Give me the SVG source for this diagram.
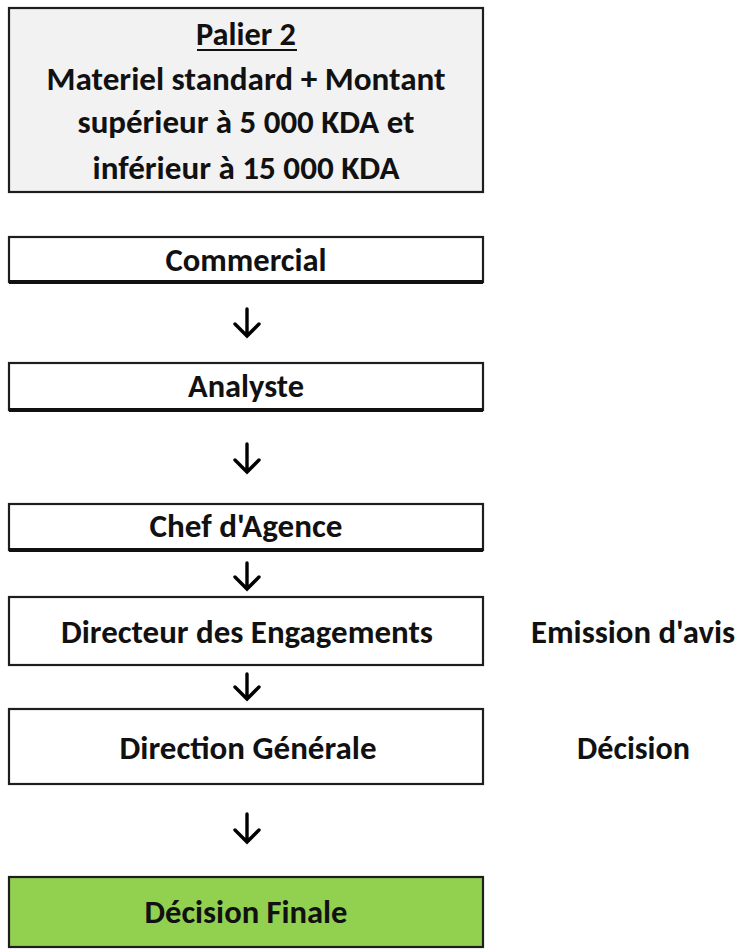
<svg xmlns="http://www.w3.org/2000/svg" width="741" height="949" viewBox="0 0 741 949">
  <style>
    .box { fill: #ffffff; stroke: #1e1e1e; stroke-width: 2.2; }
    .head { fill: #f2f2f2; }
    .final { fill: #92d050; }
    .base { stroke: #111111; stroke-width: 4; }
    .t { font-family: "Carlito", "Open Sans", "Noto Sans", sans-serif; font-weight: bold; font-size: 32px; fill: #111111; text-anchor: middle; }
    .side { text-anchor: start; }
    .arrow { fill: none; stroke: #000000; stroke-width: 3.4; stroke-linecap: round; stroke-linejoin: miter; }
  </style>

  <rect width="741" height="949" fill="#ffffff"/>

  <g id="palier">
    <rect class="box head" x="9" y="8" width="474" height="184"/>
    <text class="t" x="246" y="45" textLength="100" lengthAdjust="spacingAndGlyphs">Palier 2</text>
    <line x1="197" y1="50" x2="297" y2="50" stroke="#111111" stroke-width="2"/>
    <text class="t" x="246" y="90" textLength="399" lengthAdjust="spacingAndGlyphs">Materiel standard + Montant</text>
    <text class="t" x="246" y="133" textLength="337" lengthAdjust="spacingAndGlyphs">supérieur à 5 000 KDA et</text>
    <text class="t" x="246" y="179" textLength="307" lengthAdjust="spacingAndGlyphs">inférieur à 15 000 KDA</text>
  </g>

  <g id="commercial">
    <rect class="box" x="9" y="237" width="474" height="45"/>
    <line class="base" x1="9" y1="282" x2="483" y2="282"/>
    <text class="t" x="246" y="271" textLength="161" lengthAdjust="spacingAndGlyphs">Commercial</text>
  </g>

  <g id="analyste">
    <rect class="box" x="9" y="363" width="474" height="47"/>
    <line class="base" x1="9" y1="410" x2="483" y2="410"/>
    <text class="t" x="246" y="397" textLength="116" lengthAdjust="spacingAndGlyphs">Analyste</text>
  </g>

  <g id="chef-agence">
    <rect class="box" x="9" y="504" width="474" height="46"/>
    <line class="base" x1="9" y1="550" x2="483" y2="550"/>
    <text class="t" x="246" y="537" textLength="193" lengthAdjust="spacingAndGlyphs">Chef d'Agence</text>
  </g>

  <g id="directeur-engagements">
    <rect class="box" x="9" y="597" width="474" height="68"/>
    <text class="t" x="247" y="643" textLength="372" lengthAdjust="spacingAndGlyphs">Directeur des Engagements</text>
  </g>

  <g id="emission-avis">
    <text class="t side" x="531" y="643" textLength="204" lengthAdjust="spacingAndGlyphs">Emission d'avis</text>
  </g>

  <g id="direction-generale">
    <rect class="box" x="9" y="709" width="474" height="75"/>
    <text class="t" x="248" y="759" textLength="257" lengthAdjust="spacingAndGlyphs">Direction Générale</text>
  </g>

  <g id="decision">
    <text class="t side" x="577" y="759" textLength="113" lengthAdjust="spacingAndGlyphs">Décision</text>
  </g>

  <g id="decision-finale">
    <rect class="box final" x="9" y="877" width="474" height="70"/>
    <text class="t" x="246" y="923" textLength="203" lengthAdjust="spacingAndGlyphs">Décision Finale</text>
  </g>

  <g id="connectors">
    <path class="arrow" d="M247 309 V336 M235 324 L247 336 L259 324"/>
    <path class="arrow" d="M247 444 V472 M235 460 L247 472 L259 460"/>
    <path class="arrow" d="M247 563 V589 M235 577 L247 589 L259 577"/>
    <path class="arrow" d="M247 674 V699 M235 687 L247 699 L259 687"/>
    <path class="arrow" d="M247 814 V842 M235 830 L247 842 L259 830"/>
  </g>
</svg>
